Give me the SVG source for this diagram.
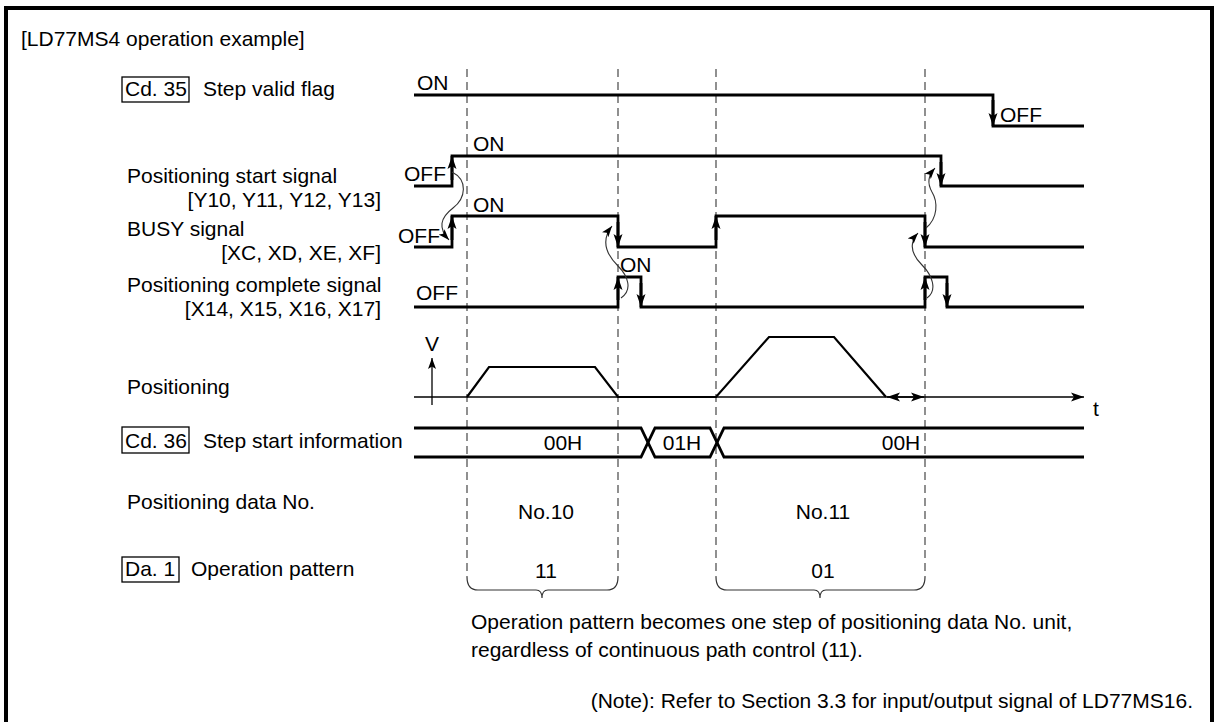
<svg xmlns="http://www.w3.org/2000/svg" width="1216" height="722" viewBox="0 0 1216 722">
<style>
text{font-family:"Liberation Sans",Arial,sans-serif;font-size:21px;fill:#000}
.mid{text-anchor:middle}
.end{text-anchor:end}
.sig{fill:none;stroke:#000;stroke-width:2.8}
.arr{fill:none;stroke:#000;stroke-width:2.8;marker-end:url(#ah)}
.dash{stroke:#555;stroke-width:1.3;stroke-dasharray:8 5}
.thin{fill:none;stroke:#000;stroke-width:1.3}
.prof{fill:none;stroke:#000;stroke-width:2.2}
.curve{fill:none;stroke:#333;stroke-width:1.1;marker-end:url(#ahc)}
.box{fill:none;stroke:#000;stroke-width:1.3}
.brace{fill:none;stroke:#333;stroke-width:1.2}
</style>
<defs>
<marker id="ah" markerUnits="userSpaceOnUse" markerWidth="14" markerHeight="10" refX="13" refY="5" orient="auto"><path d="M0,0.5 L13,5 L0,9.5 L3,5 z" fill="#000"/></marker>
<marker id="ahc" markerUnits="userSpaceOnUse" markerWidth="12" markerHeight="9" refX="11" refY="4.5" orient="auto"><path d="M0,0.5 L11,4.5 L0,8.5 L2.5,4.5 z" fill="#000"/></marker>
<marker id="ahd" markerUnits="userSpaceOnUse" markerWidth="14" markerHeight="10" refX="13" refY="5" orient="auto-start-reverse"><path d="M0,0.5 L13,5 L0,9.5 L3,5 z" fill="#000"/></marker>
</defs>

<path d="M6,740 V8 H1212 V740" fill="none" stroke="#000" stroke-width="4"/>
<text x="21" y="46">[LD77MS4 operation example]</text>

<g id="time-marks">
<line class="dash" x1="467" y1="69" x2="467" y2="577"/>
<line class="dash" x1="618" y1="69" x2="618" y2="577"/>
<line class="dash" x1="716" y1="69" x2="716" y2="577"/>
<line class="dash" x1="925" y1="69" x2="925" y2="577"/>
</g>

<g id="row-step-valid">
<rect class="box" x="122" y="77" width="67" height="25"/>
<text x="125" y="96">Cd. 35</text>
<text x="203" y="96">Step valid flag</text>
<text x="417" y="90">ON</text>
<text x="1000" y="122">OFF</text>
<path class="sig" d="M414,95 H993 V126 H1084"/>
<path class="arr" d="M993,100 V126"/>
</g>

<g id="row-start-signal">
<text x="127" y="183">Positioning start signal</text>
<text class="end" x="381" y="207">[Y10, Y11, Y12, Y13]</text>
<text x="404" y="181">OFF</text>
<text x="473" y="151">ON</text>
<path class="sig" d="M414,186 H452 V156 H941 V186 H1084"/>
<path class="arr" d="M452,180 V156"/>
<path class="arr" d="M941,162 V186"/>
</g>

<g id="row-busy">
<text x="127" y="236">BUSY signal</text>
<text class="end" x="381" y="260">[XC, XD, XE, XF]</text>
<text x="398" y="243">OFF</text>
<text x="473" y="212">ON</text>
<path class="sig" d="M414,247 H452 V216 H618 V247 H716 V216 H925 V247 H1084"/>
<path class="arr" d="M452,240 V216"/>
<path class="arr" d="M618,222 V247"/>
<path class="arr" d="M716,240 V216"/>
<path class="arr" d="M925,222 V247"/>
</g>

<g id="row-complete">
<text x="127" y="292">Positioning complete signal</text>
<text class="end" x="381" y="316">[X14, X15, X16, X17]</text>
<text x="416" y="300">OFF</text>
<text x="620" y="272">ON</text>
<path class="sig" d="M414,307 H618 V277 H641 V307 H925 V277 H947 V307 H1084"/>
<path class="arr" d="M618,300 V277"/>
<path class="arr" d="M641,283 V307"/>
<path class="arr" d="M925,300 V277"/>
<path class="arr" d="M947,283 V307"/>
</g>

<g id="row-positioning">
<text x="127" y="394">Positioning</text>
<text class="mid" x="432" y="351">V</text>
<path class="thin" d="M432,405 V358" marker-end="url(#ahc)"/>
<path class="thin" d="M414,397 H1084" marker-end="url(#ah)"/>
<path class="prof" d="M467,397 L489,367 H595 L618,397 H716 L769,337 H834 L886,397"/>
<path class="thin" d="M887,397 H924" marker-start="url(#ahd)" marker-end="url(#ahd)"/>
<text x="1093" y="416">t</text>
</g>

<g id="row-step-start">
<rect class="box" x="122" y="427" width="67" height="26"/>
<text x="125" y="448">Cd. 36</text>
<text x="203" y="448">Step start information</text>
<path class="sig" d="M414,428 H641 L655,457 H710 L724,428 H1084"/>
<path class="sig" d="M414,457 H641 L655,428 H710 L724,457 H1084"/>
<text class="mid" x="563" y="450">00H</text>
<text class="mid" x="682" y="450">01H</text>
<text class="mid" x="901" y="450">00H</text>
</g>

<g id="row-data-no">
<text x="127" y="509">Positioning data No.</text>
<text class="mid" x="546" y="519">No.10</text>
<text class="mid" x="823" y="519">No.11</text>
</g>

<g id="row-pattern">
<rect class="box" x="122" y="557" width="57" height="25"/>
<text x="125" y="576">Da. 1</text>
<text x="191" y="576">Operation pattern</text>
<text class="mid" x="546" y="578">11</text>
<text class="mid" x="823" y="578">01</text>
<path class="brace" d="M467,577 Q467,590 478,590 H536 Q542,590 542,598 Q542,590 548,590 H607 Q618,590 618,577"/>
<path class="brace" d="M716,577 Q716,590 727,590 H814 Q820,590 820,598 Q820,590 826,590 H914 Q925,590 925,577"/>
</g>

<g id="notes">
<text x="471" y="629">Operation pattern becomes one step of positioning data No. unit,</text>
<text x="471" y="657">regardless of continuous path control (11).</text>
<text class="end" x="1193" y="708">(Note): Refer to Section 3.3 for input/output signal of LD77MS16.</text>
</g>

<g id="connectors">
<path class="curve" d="M452,172 C468,180 466,198 453,208 C440,218 438,228 449,240"/>
<path class="curve" d="M621,298 C633,290 628,276 618,266 C605,253 601,240 612,226"/>
<path class="curve" d="M927,298 C938,290 932,275 922,265 C911,254 909,243 918,233"/>
<path class="curve" d="M926,228 C938,218 938,202 932,192 C927,183 928,176 935,168"/>
</g>
</svg>
